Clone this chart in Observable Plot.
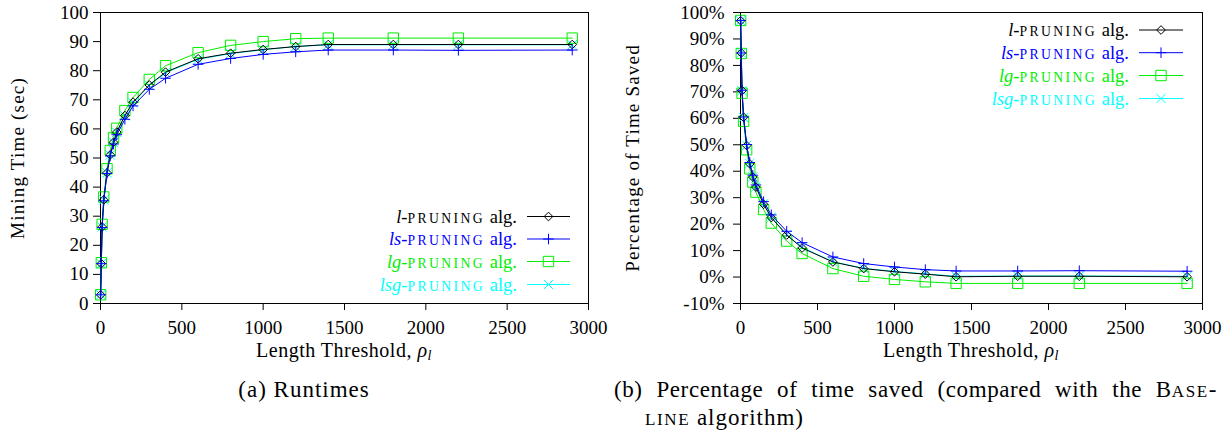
<!DOCTYPE html>
<html>
<head>
<meta charset="utf-8">
<script src="https://cdn.jsdelivr.net/npm/d3@7"></script>
<script src="https://cdn.jsdelivr.net/npm/@observablehq/plot@0.6"></script>
<style>
  body { margin: 0; background: #fff; }
  #fig { position: relative; width: 1231px; height: 432px; color: #000; overflow: hidden; }
  #fig, #fig * { font-family: "Liberation Serif", "Times New Roman", serif !important; }
  #fig svg.chart { position: absolute; top: 0; }
  .abs { position: absolute; white-space: nowrap; }
  .sc { font-size: 0.74em; letter-spacing: 1.6px; }
  .leg { font-size: 18.5px; line-height: 22px; text-align: right; width: 300px; }
  .leg .sc { letter-spacing: 2.4px; }
  .cap { font-size: 23px; line-height: 28px; letter-spacing: 1px; }
  .xt { font-size: 20px; line-height: 24px; text-align: center; width: 300px; letter-spacing: 0.5px; }
  g[aria-label="y-axis label"] text { letter-spacing: 1.2px; }
</style>
</head>
<body>
<div id="fig"></div>
<script>
// ---- data ----
const thresholds = [1, 5, 10, 20, 40, 60, 80, 100, 150, 200, 300, 400, 600, 800, 1000, 1200, 1400, 1800, 2200, 2900];
const seriesKeys = ["l", "ls", "lg", "lsg"];

const runtimeL   = [3.0, 13.7, 26.3, 35.6, 44.9, 51.1, 55.4, 58.9, 64.6, 69.2, 75.1, 79.5, 84.1, 86.0, 87.3, 88.3, 89.0, 89.0, 89.0, 89.0];
const runtimeLs  = [3.0, 13.7, 26.1, 35.3, 44.7, 50.7, 54.8, 58.0, 63.3, 67.9, 73.6, 77.4, 82.2, 84.2, 85.6, 86.5, 87.1, 87.1, 87.0, 87.1];
const runtimeLg  = [3.0, 14.0, 27.2, 36.6, 46.3, 52.6, 56.9, 60.2, 66.3, 70.8, 77.0, 81.7, 86.2, 88.7, 90.0, 91.0, 91.2, 91.2, 91.2, 91.2];
const runtimeLsg = [3.0, 13.7, 26.3, 35.6, 44.9, 51.0, 55.3, 58.8, 64.5, 69.0, 74.9, 79.3, 83.9, 85.9, 87.2, 88.3, 88.9, 88.9, 88.9, 88.9];

const savedL   = [96.9, 84.7, 70.5, 60.4, 49.7, 42.8, 37.8, 34.0, 27.5, 22.5, 15.9, 11.0, 5.7, 3.2, 2.0, 1.1, 0.1, 0.3, 0.3, 0.1];
const savedLs  = [97.0, 84.7, 70.6, 60.5, 50.1, 43.3, 38.5, 34.8, 28.5, 23.5, 17.3, 13.0, 7.6, 5.1, 3.8, 2.8, 2.3, 2.3, 2.4, 2.2];
const savedLg  = [97.0, 84.5, 69.5, 58.9, 48.1, 40.9, 35.9, 32.1, 25.5, 20.4, 13.6, 8.9, 3.2, 0.3, -0.9, -1.8, -2.4, -2.4, -2.4, -2.4];
const savedLsg = [96.9, 84.7, 70.4, 60.3, 49.8, 42.9, 37.9, 34.1, 27.7, 22.6, 16.0, 11.2, 5.8, 3.3, 2.1, 1.2, 0.3, 0.4, 0.4, 0.3];

const xTicks = [0, 500, 1000, 1500, 2000, 2500, 3000];
const yTicksRuntime = [0, 10, 20, 30, 40, 50, 60, 70, 80, 90, 100];
const yTicksSaved = [-10, 0, 10, 20, 30, 40, 50, 60, 70, 80, 90, 100];

const legendItalic = ["l", "ls", "lg", "lsg"];
const legendWord = "PRUNING";
const legendTail = "alg.";

// ---- styles ----
const look = {
  l:   { color: "#000000", symbol: "diamond2", r: 3.9 },
  ls:  { color: "#0000ff", symbol: "plus",     r: 3.5 },
  lg:  { color: "#00ee00", symbol: "square2",  r: 6.6 },
  lsg: { color: "#00ffff", symbol: "times",    r: 4.3 }
};
const drawOrder = ["lsg", "lg", "l", "ls"];

function makeChart({ width, marginLeft, marginRight, yDomain, yTicks, yFormat, yLabel, labelOffset, tickPadding, values }) {
  const rows = seriesKeys.flatMap((k, j) => thresholds.map((t, i) => ({ key: k, x: t, y: values[j][i] })));
  return Plot.plot({
    width, height: 370,
    marginLeft, marginRight, marginTop: 12, marginBottom: 67,
    style: { fontFamily: "Liberation Serif", fontSize: "19px", color: "#000", background: "transparent", overflow: "visible" },
    x: { domain: [0, 3000], ticks: xTicks, tickSize: 7, tickPadding: 10, tickFormat: d => String(d), label: null },
    y: { domain: yDomain, ticks: yTicks, tickSize: 7, tickPadding, tickFormat: yFormat, label: yLabel, labelAnchor: "center", labelOffset, labelArrow: "none" },
    marks: [
      Plot.frame({ stroke: "#000", strokeWidth: 1 }),
      ...drawOrder.flatMap(k => {
        const d = rows.filter(r => r.key === k);
        const s = look[k];
        return [
          Plot.line(d, { x: "x", y: "y", stroke: s.color, strokeWidth: 1 }),
          Plot.dot(d, { x: "x", y: "y", symbol: s.symbol, r: s.r, stroke: s.color, strokeWidth: 1, fill: "none" })
        ];
      })
    ]
  });
}

const fig = document.getElementById("fig");

const left = makeChart({
  width: 615, marginLeft: 100, marginRight: 27,
  yDomain: [0, 100], yTicks: yTicksRuntime, yFormat: d => String(d),
  yLabel: "Mining Time (sec)", labelOffset: 90, tickPadding: 5,
  values: [runtimeL, runtimeLs, runtimeLg, runtimeLsg]
});
left.classList.add("chart");
left.style.left = "0px";
fig.appendChild(left);

const right = makeChart({
  width: 616, marginLeft: 125, marginRight: 29,
  yDomain: [-10, 100], yTicks: yTicksSaved, yFormat: d => d + "%",
  yLabel: "Percentage of Time Saved", labelOffset: 115, tickPadding: 9,
  values: [savedL, savedLs, savedLg, savedLsg]
});
right.classList.add("chart");
right.style.left = "615px";
fig.appendChild(right);

// ---- legends ----
const overlay = d3.select(fig).append("svg")
  .attr("width", 1231).attr("height", 432)
  .style("position", "absolute").style("left", 0).style("top", 0).style("pointer-events", "none");

function legend({ textRight, x1, x2, rowYs }) {
  seriesKeys.forEach((k, i) => {
    const s = look[k];
    const div = document.createElement("div");
    div.className = "abs leg";
    div.style.left = (textRight - 300) + "px";
    div.style.top = (rowYs[i] - 11) + "px";
    div.style.color = s.color;
    div.innerHTML = `<i>${legendItalic[i]}</i>-<span class="sc">${legendWord}</span> ${legendTail}`;
    fig.appendChild(div);
    overlay.append("line").attr("x1", x1).attr("x2", x2).attr("y1", rowYs[i]).attr("y2", rowYs[i])
      .attr("stroke", s.color).attr("stroke-width", 1);
    const sym = { diamond2: d3.symbolDiamond2, plus: d3.symbolPlus, square2: d3.symbolSquare2, times: d3.symbolTimes }[s.symbol];
    overlay.append("path").attr("d", d3.symbol(sym, s.r * s.r * Math.PI)())
      .attr("transform", `translate(${(x1 + x2) / 2},${rowYs[i]})`)
      .attr("fill", "none").attr("stroke", s.color).attr("stroke-width", 1);
  });
}
legend({ textRight: 517, x1: 527, x2: 570, rowYs: [216.5, 239, 261.5, 284.5] });
legend({ textRight: 1129, x1: 1139, x2: 1183, rowYs: [30, 52.7, 75.5, 98.5] });

// ---- axis titles & captions ----
function addText(cls, left, top, html, extra = {}) {
  const div = document.createElement("div");
  div.className = "abs " + cls;
  div.style.left = left + "px";
  div.style.top = top + "px";
  Object.assign(div.style, extra);
  div.innerHTML = html;
  fig.appendChild(div);
  return div;
}
const xTitle = `Length Threshold, <i>ρ</i><sub style="font-size:14px;vertical-align:-3px;line-height:0"><i>l</i></sub>`;
addText("xt", 344 - 150, 338, xTitle);
addText("xt", 971 - 150, 338, xTitle);

addText("cap", 304 - 150, 376, "(a) Runtimes", { width: "300px", textAlign: "center" });
addText("cap", 614, 376, `(b) Percentage of time saved (compared with the B<span class="sc">ASE</span>-`,
  { width: "603px", textAlign: "justify", textAlignLast: "justify", letterSpacing: "0.6px" });
addText("cap", 645, 404, `<span class="sc">LINE</span> algorithm)`);
</script>
</body>
</html>
